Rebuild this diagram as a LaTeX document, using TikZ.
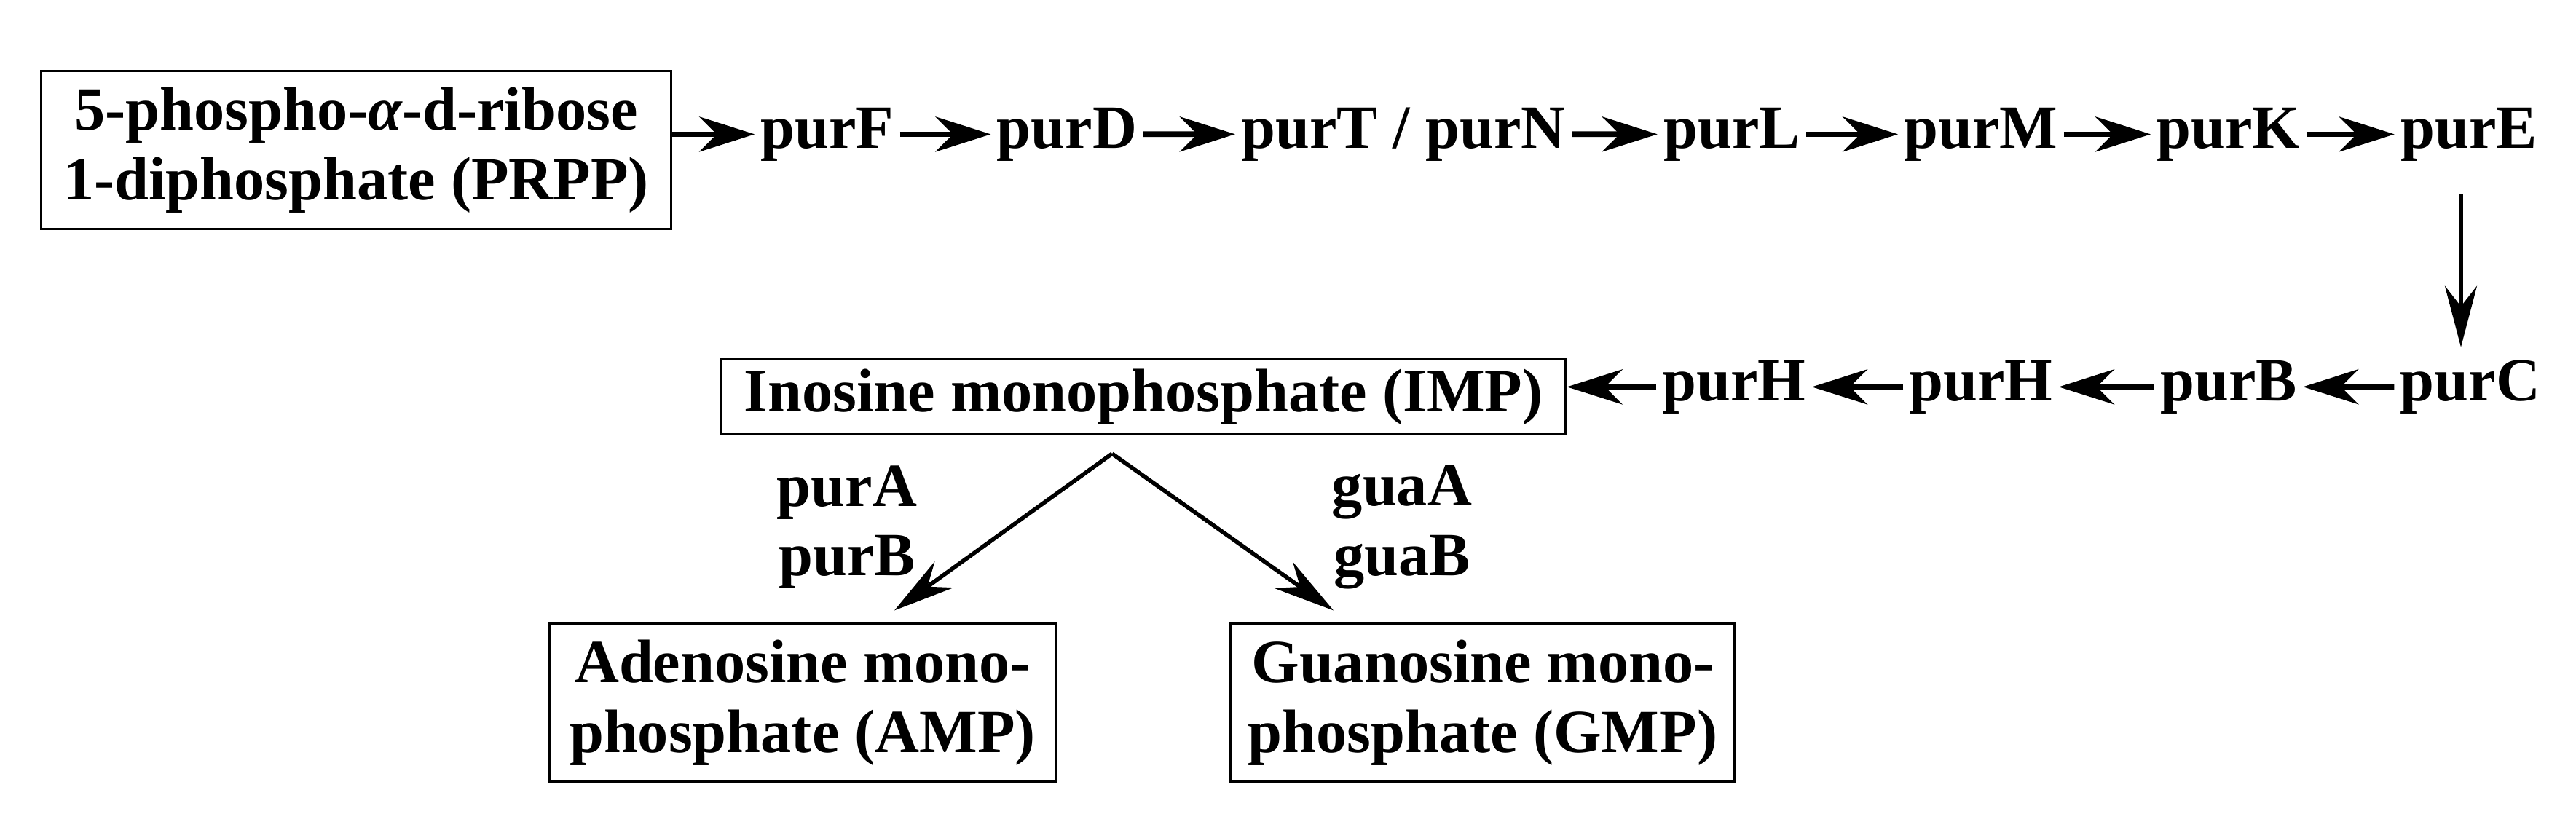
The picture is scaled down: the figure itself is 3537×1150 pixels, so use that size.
\documentclass[tikz,border=0pt]{standalone}
\usepackage{fontspec}
\setmainfont{Liberation Serif}
\usepackage{tikz}
\usetikzlibrary{positioning}
\usetikzlibrary{arrows.meta}
\tikzset{>={Stealth[width=2.4mm,length=3.8mm,inset=1.2mm]}}

\begin{document}
\begin{tikzpicture}[x=0.05mm, y=-0.05mm, font=\fontsize{12}{13.6}\selectfont\bfseries, enzyme/.style={inner sep=1pt, anchor=base}, metabolite/.style={draw=black, line width=0.45pt, align=center, inner sep=0pt}, flow/.style={->, line width=1.1pt}, slim/.style={-{Stealth[width=2.2mm,length=4.2mm,inset=1.4mm]}, line width=0.8pt}]
    \useasboundingbox (0,0) rectangle (3537,1150);

    %Nodes
    \node[metabolite, minimum width=43.25mm, minimum height=10.85mm](prpp) at (489,206){5-phospho-{\itshape α}-d-ribose\\1-diphosphate (PRPP)};
    \node[enzyme](purF) at (1136,203){purF};
    \node[enzyme](purD) at (1465,203){purD};
    \node[enzyme](purTN) at (1927,203){purT / purN};
    \node[enzyme](purL) at (2378,203){purL};
    \node[enzyme](purM) at (2720,203){purM};
    \node[enzyme](purK) at (3060,203){purK};
    \node[enzyme](purE) at (3390,203){purE};
    \node[enzyme](purC) at (3392,550){purC};
    \node[enzyme](purB) at (3060,550){purB};
    \node[enzyme](purHb) at (2720,550){purH};
    \node[enzyme](purHa) at (2381,550){purH};
    \node[metabolite, minimum width=58mm, minimum height=5.15mm](imp) at (1570,545){Inosine monophosphate (IMP)};
    \node[align=center](ampgenes) at (1163,724){purA\\purB};
    \node[align=center](gmpgenes) at (1925,724){guaA\\guaB};
    \node[metabolite, minimum width=34.75mm, minimum height=10.9mm](amp) at (1102,965){Adenosine mono-\\phosphate (AMP)};
    \node[metabolite, minimum width=34.6mm, minimum height=10.9mm](gmp) at (2036,965){Guanosine mono-\\phosphate (GMP)};

    %Lines
    \draw[flow] (prpp.east |- purF) -- (purF);
    \draw[flow] (purF) -- (purD);
    \draw[flow] (purD) -- (purTN);
    \draw[flow] (purTN) -- (purL);
    \draw[flow] (purL) -- (purM);
    \draw[flow] (purM) -- (purK);
    \draw[flow] (purK) -- (purE);
    \draw[slim, shorten <=1.9mm, shorten >=0.45mm] ([xshift=-0.55mm]purE.south) -- ([xshift=-0.55mm]purE.south |- purC.north);
    \draw[flow] (purC) -- (purB);
    \draw[flow] (purB) -- (purHb);
    \draw[flow] (purHb) -- (purHa);
    \draw[flow] (purHa) -- (imp.east |- purHa);
    \draw[slim] ([xshift=-2.15mm, yshift=-1.25mm]imp.south) -- ([xshift=6.3mm, yshift=0.8mm]amp.north);
    \draw[slim] ([xshift=-2.15mm, yshift=-1.25mm]imp.south) -- ([xshift=-10.25mm, yshift=0.8mm]gmp.north);

\end{tikzpicture}
\end{document}
